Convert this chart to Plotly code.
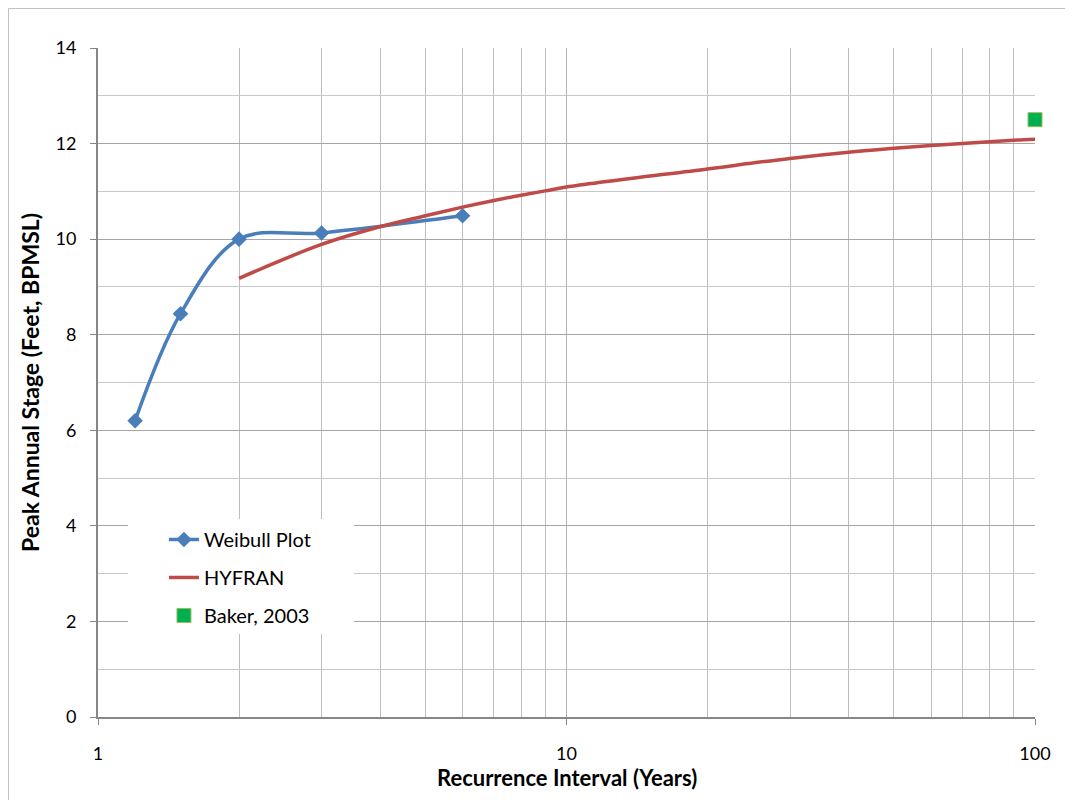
import plotly.graph_objects as go

# Data
weibull_x = [1.2, 1.5, 2, 3, 6]
weibull_y = [6.2, 8.44, 10.0, 10.13, 10.49]

hyfran_x = [2, 3, 4, 5, 6, 7, 8, 9, 10, 20, 30, 40, 50, 60, 70, 80, 90, 100]
hyfran_y = [9.18, 9.89, 10.26, 10.49, 10.67, 10.81, 10.92, 11.01, 11.09,
            11.47, 11.69, 11.82, 11.90, 11.96, 12.00, 12.04, 12.07, 12.09]

baker_x = [100]
baker_y = [12.5]

x_major_ticks = [1, 10, 100]
x_major_text = ["1", "10", "100"]
x_minor_ticks = [2, 3, 4, 5, 6, 7, 8, 9, 20, 30, 40, 50, 60, 70, 80, 90]

x_title = "Recurrence Interval (Years)"
y_title = "Peak Annual Stage (Feet, BPMSL)"

FONT = "Lato"

fig = go.Figure()
fig.add_trace(go.Scatter(
    x=weibull_x, y=weibull_y, name="Weibull Plot", mode="lines+markers",
    line=dict(color="#4a7ebb", width=3.5, shape="spline", smoothing=1),
    marker=dict(symbol="diamond", size=12, color="#4a7ebb"),
    legendgroup="a", cliponaxis=False))
fig.add_trace(go.Scatter(
    x=hyfran_x, y=hyfran_y, name="HYFRAN", mode="lines",
    line=dict(color="#be4b48", width=3.5, shape="spline", smoothing=1),
    legendgroup="b", cliponaxis=False))
fig.add_trace(go.Scatter(
    x=baker_x, y=baker_y, name="Baker, 2003", mode="markers",
    marker=dict(symbol="square", size=14, color="#00b050",
                line=dict(color="#9bbb59", width=1)),
    legendgroup="c", cliponaxis=False))

fig.update_layout(
    width=1073, height=800,
    margin=dict(l=90, r=46, t=40, b=91),
    paper_bgcolor="white", plot_bgcolor="white",
    font=dict(family=FONT, size=18, color="#000000"),
    showlegend=True,
    legend=dict(x=0.0704, y=0.2945, xanchor="left", yanchor="top",
                bgcolor="rgba(0,0,0,0)", borderwidth=0, tracegroupgap=9,
                font=dict(family=FONT, size=20, color="#000000")),
    xaxis=dict(
        type="log", range=[0, 2],
        tickvals=x_major_ticks, ticktext=x_major_text,
        ticks="outside", ticklen=6, tickcolor="#868686",
        showgrid=True, gridcolor="#b3b3b3", gridwidth=1,
        minor=dict(tickvals=x_minor_ticks, showgrid=True,
                   gridcolor="#bdbdbd", gridwidth=1, ticks=""),
        showline=True, linecolor="#868686", linewidth=2,
        zeroline=False, ticklabelstandoff=13,
    ),
    yaxis=dict(
        range=[0, 14], dtick=2, tick0=0,
        ticks="outside", ticklen=6, tickcolor="#868686",
        showgrid=True, gridcolor="#a6a6a6", gridwidth=1,
        minor=dict(dtick=1, showgrid=True, gridcolor="#c8c8c8",
                   gridwidth=1, ticks=""),
        showline=True, linecolor="#868686", linewidth=2,
        zeroline=False, ticklabelstandoff=10,
        title=dict(text="<b>" + y_title + "</b>",
                   font=dict(family=FONT, size=23), standoff=9),
    ),
    annotations=[
        dict(text="<b>" + x_title + "</b>", xref="paper", yref="paper",
             x=0.5, y=(717 - 778) / 669, xanchor="center", yanchor="middle",
             showarrow=False, font=dict(family=FONT, size=22, color="#000000")),
    ],
    shapes=[
        dict(type="rect", xref="paper", yref="paper",
             x0=-0.0955, x1=1.1, y0=-0.2, y1=1.059,
             line=dict(color="#c0c0c0", width=1), layer="below"),
        dict(type="rect", xref="paper", yref="paper",
             x0=(128 - 98) / 937, x1=(354 - 98) / 937,
             y0=(717 - 634) / 669, y1=(717 - 519) / 669,
             line=dict(width=0), fillcolor="white", layer="above"),
    ],
)

fig.write_html("out.html")
